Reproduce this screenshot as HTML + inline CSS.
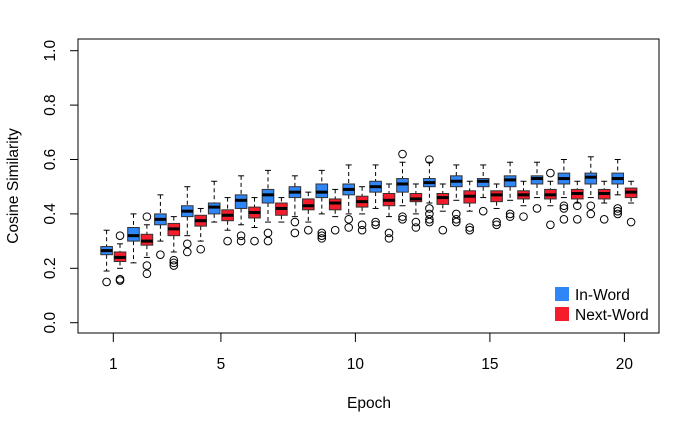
<!DOCTYPE html>
<html><head><meta charset="utf-8"><style>
html,body{margin:0;padding:0;background:#fff;}
svg{display:block;font-family:"Liberation Sans",sans-serif;}
</style></head><body>
<svg id="chart" width="700" height="432" viewBox="0 0 700 432">
<rect x="78" y="39" width="581" height="294" fill="none" stroke="#000" stroke-width="1"/>
<g id="axes"></g>
<g id="marks"></g>
<text x="18" y="186" transform="rotate(-90 18 186)" text-anchor="middle" font-size="15.5">Cosine Similarity</text>
<text x="369" y="408" text-anchor="middle" font-size="15.5">Epoch</text>
<g>
<rect x="555" y="287" width="14" height="14" fill="#2f86f6"/>
<text x="575" y="300" font-size="15.5">In-Word</text>
<rect x="555" y="307" width="14" height="14" fill="#f51d2b"/>
<text x="575" y="320" font-size="15.5">Next-Word</text>
</g>
</svg>
<script>
const epochs=[1,2,3,4,5,6,7,8,9,10,11,12,13,14,15,16,17,18,19,20];
const xTicks=[1,5,10,15,20];
const yTicks=[0,0.2,0.4,0.6,0.8,1.0];
const yTickLabels=["0.0","0.2","0.4","0.6","0.8","1.0"];
const inMed=[.265,.32,.38,.41,.425,.45,.47,.48,.48,.49,.50,.51,.515,.52,.52,.525,.53,.53,.535,.53];
const inQ1=[.25,.30,.36,.39,.40,.42,.44,.46,.46,.47,.48,.48,.50,.50,.50,.50,.51,.51,.51,.51];
const inQ3=[.28,.35,.40,.43,.44,.47,.49,.50,.51,.51,.52,.53,.53,.54,.53,.54,.54,.55,.55,.55];
const inLo=[.19,.22,.30,.32,.37,.36,.37,.39,.40,.40,.42,.43,.44,.45,.46,.45,.46,.46,.46,.47];
const inHi=[.34,.40,.47,.50,.52,.54,.56,.54,.56,.58,.58,.59,.59,.58,.58,.59,.59,.60,.61,.60];
const inOut=[[.15],[],[.25],[.29,.26],[],[.32,.30],[.33,.30],[.37,.33],[.33,.32,.31],[.38,.35],[.36,.37],[.39,.38,.62],[.42,.40,.38,.37,.60],[.40,.38,.37],[.41],[.40,.39],[.42],[.43,.42,.38],[.43,.40],[.42,.41,.40]];
const nxMed=[.24,.30,.345,.375,.395,.405,.42,.43,.44,.445,.45,.455,.46,.465,.47,.47,.47,.475,.475,.48];
const nxQ1=[.225,.285,.32,.355,.375,.385,.395,.415,.415,.425,.43,.445,.435,.44,.445,.455,.455,.455,.455,.46];
const nxQ3=[.26,.325,.365,.395,.415,.425,.44,.455,.455,.465,.475,.475,.475,.485,.485,.485,.49,.49,.49,.495];
const nxLo=[.20,.24,.26,.30,.34,.35,.37,.37,.39,.40,.39,.40,.41,.41,.42,.43,.43,.44,.44,.44];
const nxHi=[.29,.36,.39,.42,.46,.46,.46,.48,.49,.50,.51,.51,.51,.52,.51,.52,.52,.52,.52,.52];
const nxOut=[[.16,.155,.32],[.21,.18,.39],[.23,.22,.21],[.27],[.30],[.30],[],[.34],[.34],[.36,.34],[.33,.31],[.37,.35],[.34],[.35,.34],[.37,.36],[.39],[.36,.55],[.43,.38],[.38],[.37]];

const NS="http://www.w3.org/2000/svg";
function xs(e){return 113.3+(e-1)*26.9;}
function ys(v){return 322.7-272*v;}
function mk(tag,attrs,parent){const el=document.createElementNS(NS,tag);for(const k in attrs)el.setAttribute(k,attrs[k]);parent.appendChild(el);return el;}
const axes=document.getElementById('axes'),marks=document.getElementById('marks');
xTicks.forEach(t=>{
  const l=mk('line',{x1:xs(t),x2:xs(t),y1:333,y2:342,stroke:'#000'},axes);
  
  
  const tx=mk('text',{x:xs(t),y:369,'text-anchor':'middle','font-size':15.5},axes);
  tx.textContent=t;
  
  
});
yTicks.forEach((t,i)=>{
  const y=ys(t);
  const l=mk('line',{x1:70,x2:78,y1:y,y2:y,stroke:'#000'},axes);
  
  
  const tx=mk('text',{x:55,y:y,'text-anchor':'middle','font-size':15.5,transform:`rotate(-90 55 ${y})`},axes);
  tx.textContent=yTickLabels[i];
  
  
});
function drawBox(cx,med,q1,q3,lo,hi,outs,fill,name){
  const g=mk('g',{},marks);
  
  
  const hw=5.8;
  mk('line',{x1:cx,x2:cx,y1:ys(hi),y2:ys(q3),stroke:'#000','stroke-dasharray':'4,3'},g);
  mk('line',{x1:cx,x2:cx,y1:ys(q1),y2:ys(lo),stroke:'#000','stroke-dasharray':'4,3'},g);
  mk('line',{x1:cx-3,x2:cx+3,y1:ys(hi),y2:ys(hi),stroke:'#000'},g);
  mk('line',{x1:cx-3,x2:cx+3,y1:ys(lo),y2:ys(lo),stroke:'#000'},g);
  mk('rect',{x:cx-hw,y:ys(q3),width:2*hw,height:ys(q1)-ys(q3),fill:fill,stroke:'#333','stroke-width':1},g);
  mk('line',{x1:cx-hw,x2:cx+hw,y1:ys(med),y2:ys(med),stroke:'#000','stroke-width':3},g);
  outs.forEach(o=>mk('circle',{cx:cx,cy:ys(o),r:3.8,fill:'none',stroke:'#000'},g));
}
epochs.forEach((e,i)=>{
  drawBox(xs(e)-6.7,inMed[i],inQ1[i],inQ3[i],inLo[i],inHi[i],inOut[i],'#2f86f6','box-in-word-'+e);
  drawBox(xs(e)+6.7,nxMed[i],nxQ1[i],nxQ3[i],nxLo[i],nxHi[i],nxOut[i],'#f51d2b','box-next-word-'+e);
});
</script>
</body></html>
